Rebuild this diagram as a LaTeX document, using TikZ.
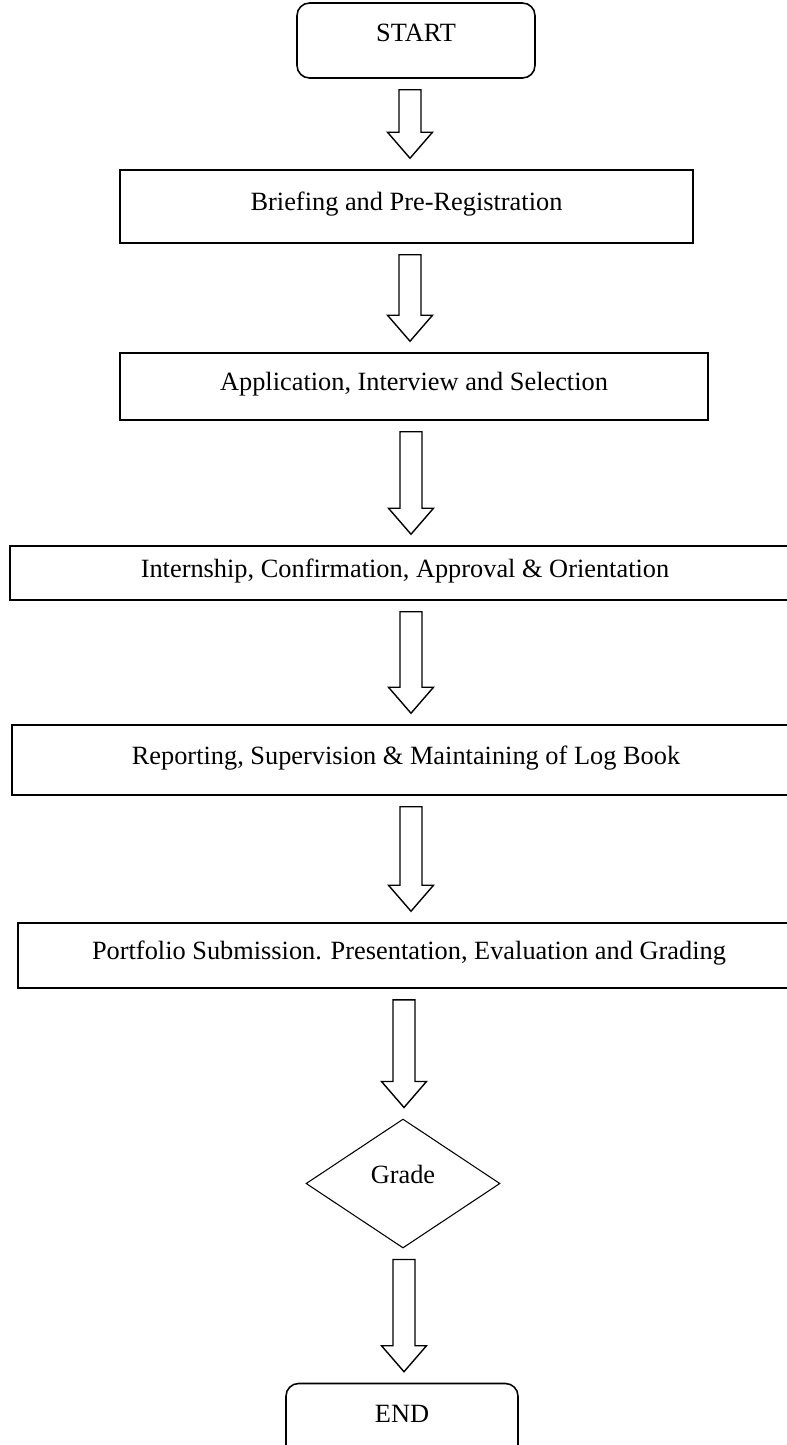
\documentclass[tikz,border=0pt]{standalone}
\usepackage{fontspec}
\setmainfont{Liberation Serif}
\usetikzlibrary{shapes.geometric,calc}
\tikzset{
	box/.style={draw,line width=0.9pt,inner sep=0pt,text depth=0.2cm,font=\fontsize{15}{18}\selectfont},
	endbox/.style={box,rounded corners=0.25cm,text depth=0.3cm},
	decision/.style={box,diamond,line width=0.6pt,aspect=1.5,text depth=0.35cm},
	fat/.style={draw,line width=0.8pt,to path={
		let \p1=(\tikztostart.south), \p2=(\tikztotarget.north), \p3=(#1,0) in
		(\x3-0.22cm,\y1-0.22cm) -- (\x3+0.22cm,\y1-0.22cm) -- (\x3+0.22cm,\y2+0.74cm)
		-- (\x3+0.45cm,\y2+0.74cm) -- (\x3,\y2+0.22cm) -- (\x3-0.45cm,\y2+0.74cm)
		-- (\x3-0.22cm,\y2+0.74cm) -- cycle}},
	fat/.default=410
}

\begin{document}
\begin{tikzpicture}[x=0.02cm,y=-0.02cm]
			\useasboundingbox (0,0) rectangle (787,1445);
			\clip (0,0) rectangle (787,1445);
			\node[endbox,minimum width=4.76cm,minimum height=1.5cm] (start) at (416,40.5) {START};
			\node[box,minimum width=11.46cm,minimum height=1.46cm] (brief) at (406.5,206.5) {Briefing and Pre-Registration};
			\node[box,minimum width=11.76cm,minimum height=1.34cm] (apply) at (414,386.5) {Application, Interview and Selection};
			\node[box,minimum width=15.8cm,minimum height=1.08cm] (intern) at (405,573) {Internship, Confirmation, Approval \& Orientation};
			\node[box,minimum width=15.76cm,minimum height=1.4cm] (report) at (406,760) {Reporting, Supervision \& Maintaining of Log Book};
			\node[box,minimum width=15.64cm,minimum height=1.3cm] (folio) at (409,955.5) {Portfolio Submission. Presentation, Evaluation and Grading};
			\node[decision,minimum width=3.88cm,minimum height=2.58cm] (grade) at (403,1183.5) {Grade};
			\node[endbox,minimum width=4.64cm,minimum height=1.5cm] (end) at (402,1421) {END};
			\draw[fat] (start) to (brief);
			\draw[fat] (brief) to (apply);
			\draw[fat=411] (apply) to (intern);
			\draw[fat=411] (intern) to (report);
			\draw[fat=411] (report) to (folio);
			\draw[fat=404] (folio) to (grade);
			\draw[fat=404] (grade) to (end);
		\end{tikzpicture}
\end{document}
